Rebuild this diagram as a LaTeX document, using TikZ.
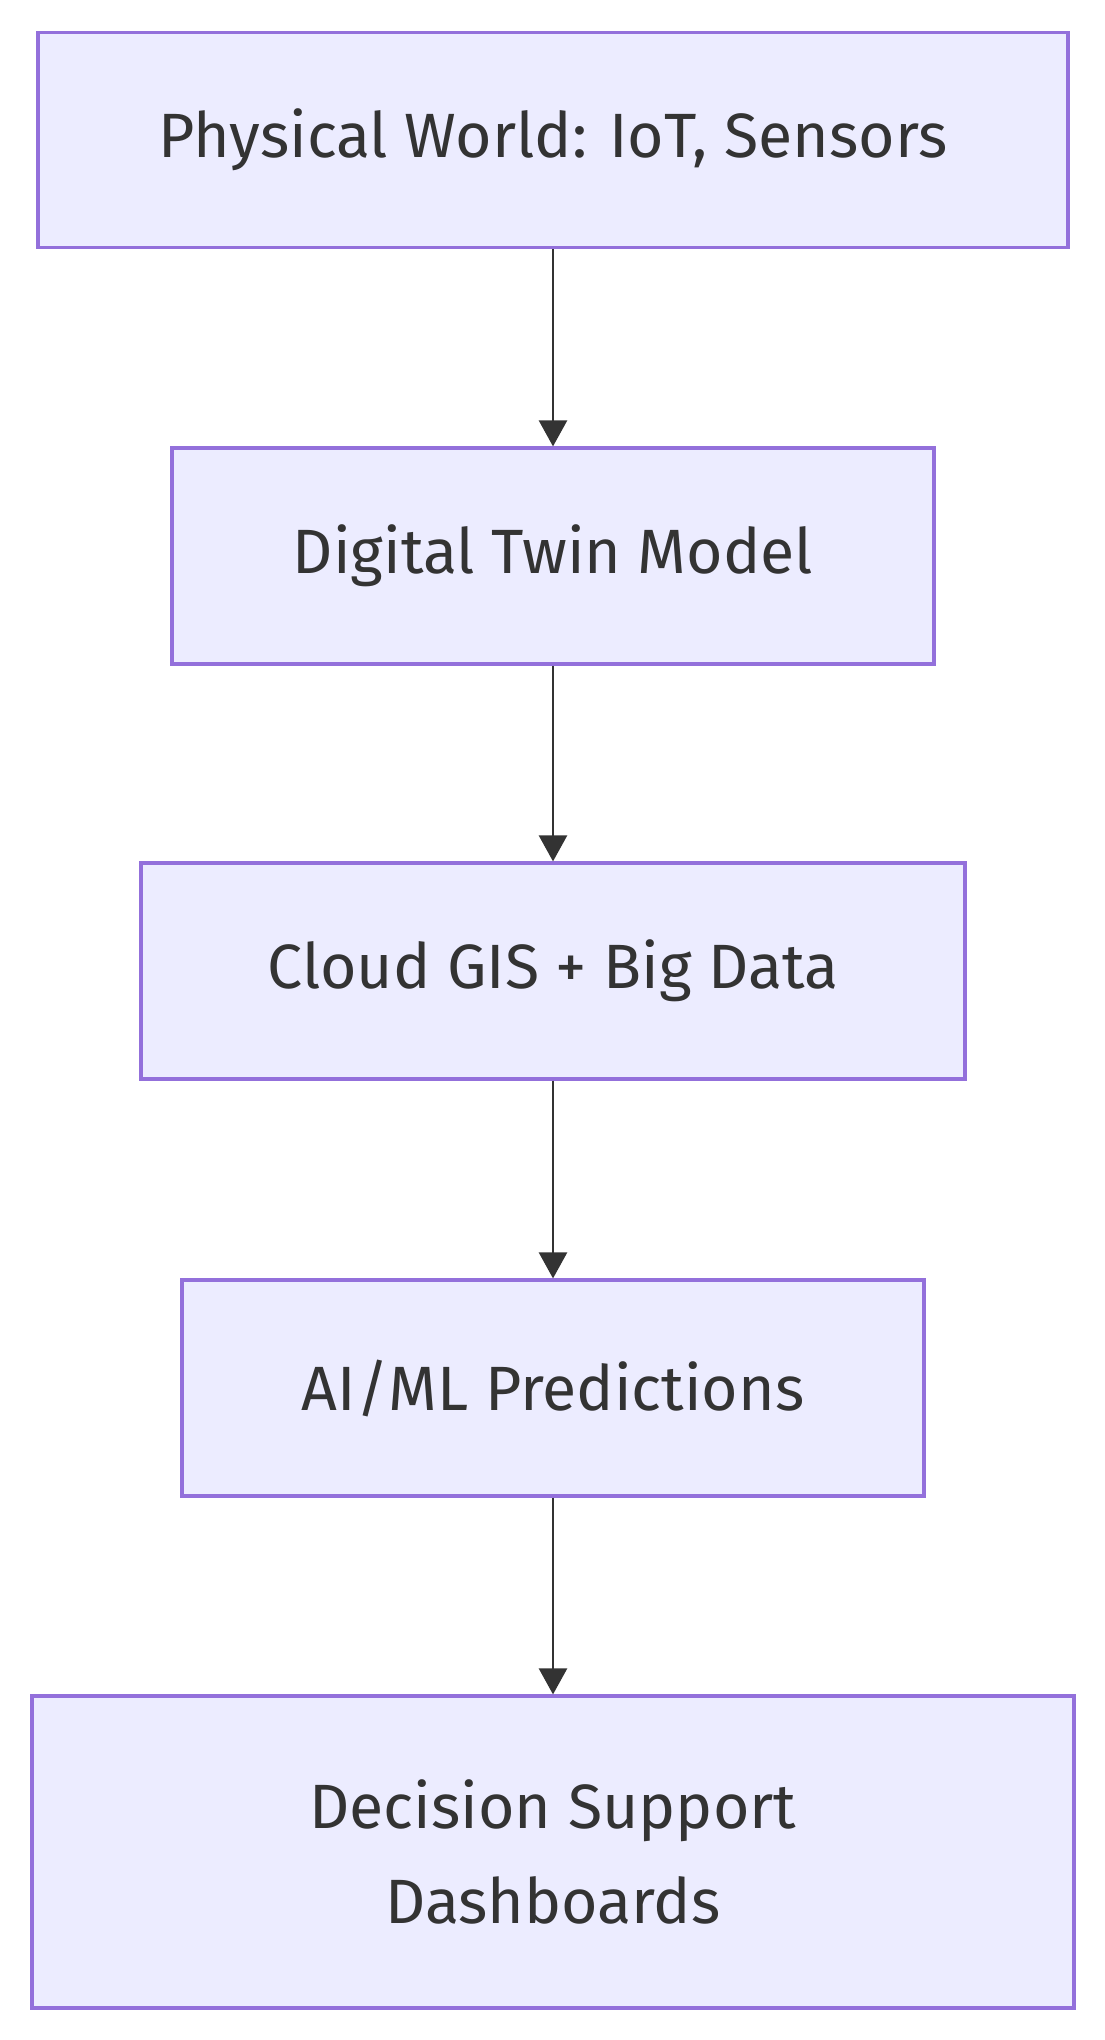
\documentclass[tikz,border=0pt]{standalone}
\usepackage{fontspec}
\setmainfont{Fira Sans}
\usepackage{xcolor}
\usetikzlibrary{arrows.meta,positioning}
\definecolor{boxfill}{HTML}{ECECFF}
\definecolor{boxline}{HTML}{9370DB}
\definecolor{ink}{HTML}{333333}
\tikzset{
  stage/.style={draw=boxline,fill=boxfill,line width=1.6pt,
    text=ink,align=center,inner sep=0pt,
    font=\fontsize{31.3}{47.5}\selectfont},
  every node/.style={font=\small}
}
\tikzstyle{arrow} = [line width=1.3pt,draw=ink,-{Triangle[length=13pt,width=14pt]}]

\begin{document}
\begin{tikzpicture}[x=0.5pt,y=-0.5pt]
  \useasboundingbox (0,0) rectangle (1104,2040);
  \node[stage,minimum width=515pt,minimum height=107.5pt] (phys) at (553,140)
    {Physical World: IoT, Sensors};
  \node[stage,minimum width=381pt,minimum height=108pt] (twin) at (553,556)
    {Digital Twin Model};
  \node[stage,minimum width=412pt,minimum height=108pt] (cloud) at (553,971)
    {Cloud GIS + Big Data};
  \node[stage,minimum width=371pt,minimum height=108pt] (ai) at (553,1388)
    {AI/ML Predictions};
  \node[stage,minimum width=521pt,minimum height=156pt] (dash) at (553,1852)
    {Decision Support\\Dashboards};
  % pipeline top to bottom
  \draw[arrow] (phys) -- (twin);
  \draw[arrow] (twin) -- (cloud);
  \draw[arrow] (cloud) -- (ai);
  \draw[arrow] (ai) -- (dash);
\end{tikzpicture}
\end{document}
